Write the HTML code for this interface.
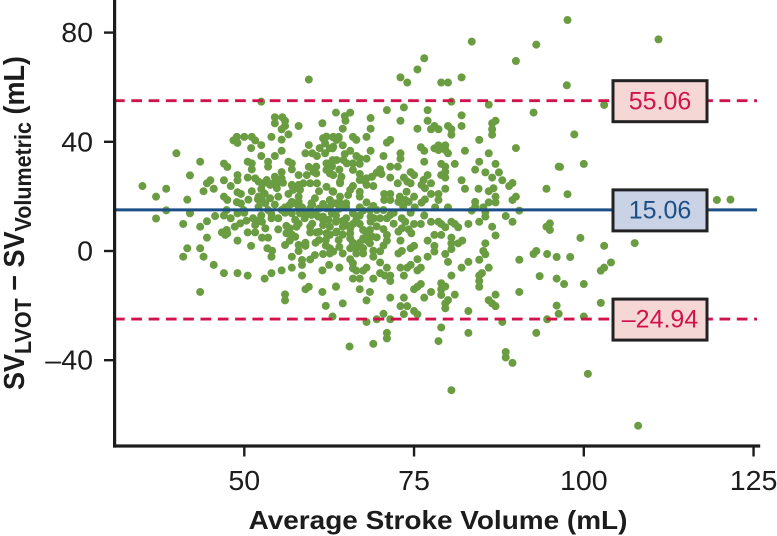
<!DOCTYPE html>
<html lang="en">
<head>
<meta charset="utf-8">
<title>Stroke Volume Bland-Altman Plot</title>
<style>
html,body{margin:0;padding:0;background:#fff;}
svg{display:block;font-family:"Liberation Sans",Arial,sans-serif;}
</style>
</head>
<body>
<svg id="chart" width="777" height="536" viewBox="0 0 777 536" xmlns="http://www.w3.org/2000/svg">
  <g id="points"></g>
  <g id="refs"></g>
  <g id="axes">
    <rect x="113" y="0" width="3.2" height="447.6" fill="#1c1c1c"></rect>
    <rect x="113" y="444.4" width="647.2" height="3.2" fill="#1c1c1c"></rect>
  </g>
  <text transform="translate(438,529) scale(1.075,1)" x="0" y="0" text-anchor="middle" font-size="26" font-weight="700" fill="#1c1c1c">Average Stroke Volume (mL)</text>
  <text transform="translate(24,390) rotate(-90) scale(1,1.06)" font-size="27" font-weight="700" fill="#1c1c1c">SV<tspan font-size="21.5" dy="6.6">LVOT</tspan><tspan dy="-6.6"> − SV</tspan><tspan font-size="21.5" dy="6.6">Volumetric</tspan><tspan dy="-6.6"> (mL)</tspan></text>
</svg>
<script>
const xTicks = [50, 75, 100, 125];
const yTicks = [80, 40, 0, -40];
const limitValues = [55.06, 15.06, -24.94];
const limitLabels = ["55.06", "15.06", "–24.94"];
const limitNames = ["upper-limit", "mean-bias", "lower-limit"];
const avgVolume = [
59.5,52.5,63.5,54.5,55.6,56,54.5,58,61.5,56,55.5,56.5,54,55.5,
48.9,50,51.1,48.4,49,51.6,52.5,51,59.5,55.5,40,52.5,54.5,59,60,60.7,
61.1,61.9,61.6,62.1,63.1,63.9,62.6,61.9,63.1,43.5,47,47.5,50.5,51.1,51.1,
53.5,53.5,56.5,57,57,59.5,60.6,60.6,62.1,62.1,62.9,63.6,42,35,37,38.5,41.6,
38.5,42,37,41,43.5,44.5,45.7,44.5,45,44,45.5,47,48,49,49,47,47.5,
49.5,48.9,49.5,50.6,51.1,50.5,51.6,52.1,55.5,54.5,55.5,53.3,52.8,54.3,55,55.7,53.8,54.8,52.5,
58,59.2,60.2,57,58,57.2,58.2,58.7,59.7,60.7,56.5,52.1,52.6,53.1,53.8,55,
58,58,57,56.7,61,62.1,63,64.1,60.4,59.9,62.6,63.6,61.6,52.1,53.5,55.5,47.4,49,49.9,
57,58.2,59.2,60.4,61.6,62.9,62.1,59.7,62.6,
44.5,46.9,47.4,47.2,46.7,47.5,49,51,48.6,49.4,50.3,50.5,51.6,51.6,51.3,52.6,53.1,
52.6,53.5,54,55,55,56.2,56.7,57.7,57.5,56.2,56,56.7,57.5,53.4,54.1,54,57,
58,58,59,41.6,41,43.5,44,45.5,47,49,50.5,53,54,55.5,57,58.5,58.5,
59.7,60.4,61.6,62.6,62.6,63.1,61,62,62.6,62.1,63.6,59.7,59.7,60.6,61.6,62.6,61.6,62.4,
58.9,59.9,60.9,63.6,61.5,62.5,64,58.5,59.5,59,61.5,63.5,43.5,56,56,62,63,63.9,
83.5,93,90,76.5,75.5,73,74,79,80,82,80.5,86,71,73.5,77,92.6,65.6,64.8,64.9,68.6,82,73,77,
87,86.5,86.5,86.5,82,75.5,77.5,78,78.6,80,80.5,80.5,64.5,68.6,68,66,66.5,63.1,63.9,63.6,
71,71.5,84.6,64.5,63,65.6,64.8,64.6,65.1,68.6,76,76.5,90,78,78.6,79.6,78.6,79.6,80,
82.5,86,73,73,70.5,66.5,67,68,67,66,66,63,62.9,76.5,84.6,81,79,79.6,79.6,87,
71.5,72.6,96.3,84,64,70,70.2,69.5,68.8,68,67,67.5,67,68,74.5,75,85.5,87.5,
77,76.4,76.1,76.6,71.5,73.5,74,74.5,79,79.6,86.5,82,88,72.6,77.5,89.5,89,
82.5,84.5,79.6,94.5,86.7,86,64.3,64.1,63.1,62.6,66,65.6,65.3,64.1,63.1,67,67,69,
70.6,70.6,71.5,71.5,72.9,73.9,73.7,74.2,72.7,75,76.6,76.1,77.5,78.6,78.6,84,84,90,89.5,
86,87,87,68,64.1,65,63.1,67,67.5,68.5,69.5,70.5,73.4,75.1,78.1,80,83.5,85.2,85.5,90.5,
85.5,88.5,89.5,94.5,95,95,
65,66,63.5,68.6,69.1,68.6,71.5,71,73.2,73.7,75,76,77.5,78.6,79,79.6,80.5,81,81.5,83,84.6,86.5,87,
64.5,63.5,65.6,65.6,65.6,66,67,67.5,68.5,68,67.5,68.8,68.5,68,69.5,71,71,73,72.7,73.2,74.2,74.6,
77,78,79,80.5,80.5,80.5,81.5,82.1,85.5,78,78,74.5,75,72.7,73.2,79.6,85.2,85.5,92.6,93,94.6,96,90.5,
77,75.5,80,83,84.6,82,86,85,84.6,84.6,84.6,80.5,93.5,96,76,75.5,74.5,74,73,73.5,
64.5,62.9,65.6,66.5,67.5,66.5,67.5,69,70,69,64,65.6,66,66,66.5,67.5,68,70,
71,70,70.7,71.5,71.5,69,66,67,63.5,67,68.5,68,64.5,71.5,73.5,73,74,
75,75.5,76,76.5,77.5,79,79.6,79,79,81,80,79.6,79.6,75,75.5,73.5,70.5,69.5,71.5,68,
83,86,86.5,87,87,90.5,96,94.6,96.3,88,79,83,93,71,71,78.6,69,65.5,88.5,88.5,89.5,80.5,
97.6,111,97.5,103,98.6,96.5,100,97.6,119.6,121.6,
99.5,103,107.5,98,104,103,102.5,97.1,100,102.5,100,100.6,108,
50,52,53,49,54,56,47,52.5,48,58,56,54.5,52,
57.5,58.5,60,61,63,64,65,63.5,64.5,60,61,58,57,59,60.5,62,64,64.5,66,66.5,67,65,67,69.5,70,70.5,69,72,74.5,76.5,72,70.5
];
const difference = [
62.8,54.7,50.7,49,49,47.7,46.8,45.8,46.8,45.8,44.6,42.7,41.8,40.8,
41.8,41.8,41.8,40.5,39.6,40.5,38.8,37.7,38.8,36.7,35.8,34.8,34.8,35.8,35.8,34.8,
37.7,39.4,41.3,41.9,41.6,41.3,37.6,35.8,38.2,32.7,32,30.8,32.7,32.1,29.9,
32.7,30.9,32.7,32.1,29.9,30.8,30.9,28.4,32.1,29.7,30.9,33.3,27.7,23.8,19.9,22.8,18.8,
14.9,13.8,11.9,9.9,8.9,10.9,12.8,24.8,25.9,21.9,22.8,25.9,23.8,27.8,25.9,19.9,18.7,
20.9,17.9,17.4,18.8,21.9,26.9,26.6,25.4,28.9,27.2,26.6,26,24.8,24.8,25.4,25,24.2,23,22.7,
27.8,27.8,29,24.2,24.2,22.4,22.4,24.8,24.8,24.8,20.9,19.9,18.7,17.5,19.3,19.9,
19.9,18,18,16.9,21.9,23.5,21.9,24.8,19.3,17.5,18.7,17.5,17.2,16.2,15,15,15,13.8,15,
13.8,13.8,13.8,13.8,12.6,13.8,15.6,15.6,16.2,
4.9,6.8,7.7,5.9,6.8,6.5,3.8,1.9,8.9,10.1,11.1,6.8,6.8,9.5,12,10.7,8.3,
4.9,4.9,12,12,7.9,6.5,8.3,8.9,11.4,9.2,2.2,3.8,5.2,1,0.1,-2.1,-2.1,
2.2,0,1.9,1,-2.1,1,-2.1,-5.1,-8.1,-8.1,-9,-10.1,-8.1,-7.1,-6.1,-3.3,-5.1,
-3.1,-1.5,-1.1,-0.9,1,-0.2,4,4,5.9,6.5,7.1,6.8,8.9,6.8,9.5,8.9,11.4,11.4,
12,13.2,12.6,11.1,-7.1,-5.1,-6.1,-9,-13.1,-14,-15,-13.1,-15,-15.9,-18.1,-20.1,-24,4,
76.7,75.6,69.6,70.6,66.5,63.6,61.7,61.7,61.7,63.6,54.7,53.6,51.6,52.6,51.6,50.7,50.7,49.4,47.7,48.7,49.7,47.7,47.7,
47.7,46.8,44.6,42.6,45.8,44.8,44.6,45.8,44.6,45.8,44.6,42.6,44.8,44.8,41.8,41.8,40.7,41.8,41.8,40.7,
39.7,40.7,40.7,38.7,37.6,36.7,35.5,33.3,32.1,36.7,38,36.7,37.7,37.6,38.7,38.7,37,37,35.8,
36.7,35.8,35.8,33.8,34.8,34.8,33.9,33.8,31.9,32.1,29.7,33.3,31.3,32.7,32.7,31.9,31.9,30.9,29,31.9,
30.9,30.9,30.9,29.8,29.8,29.9,28.2,28.7,27.2,26.6,28.2,26,26,24.2,28.9,27.8,28.8,28.8,
27.8,26,24.2,23,26.9,26.9,25.4,24.8,27.8,26.9,26.9,25.9,25.9,24.8,24.8,24.9,23.8,
22.8,22.8,22.8,22.8,23,21.9,27.2,25.4,27.8,28.4,23.8,22.4,20.5,19.9,21.7,21.7,19.9,23.8,
20.9,18.7,20.9,18.7,19.9,21.7,18.7,18,18,19.9,18.9,17.7,20.9,20.9,18.7,18,16.2,19.9,18.7,
17.8,19.9,17.8,17.8,17.5,17.5,17.5,16,14.8,15,15,15,16.2,16,16,16,14.8,16,14.4,14.8,
12.6,12.8,10.7,8.9,10.1,7.7,
12,13.8,10.7,12.6,12,10.7,13.2,12,12,10.7,9.9,9.9,10.7,10.7,9.9,8.7,10.7,9.9,8.7,9.9,10.7,8.9,5.7,
8.9,6.8,8.3,6.5,4.6,9.9,9.9,7.7,7.7,6.5,4.6,5.3,2.8,4,5,5.9,3.8,3.8,7.1,8.3,7.9,6.5,
3.8,5.9,5.9,4.9,2.8,0.7,2.8,3.8,2.8,1.9,-0.2,1,1.9,-0.9,0,-1.1,0,-1.2,-1.1,0,-1.1,-2.2,-3.2,
-2.1,-3,-4,-4,-3.2,-6.1,-6.1,-8.1,-9,-11,-13.1,-9,-9.2,-10.1,-6.1,-7.1,-5.1,-6.1,-6.1,-9,
-0.9,-0.2,1,1,1,-0.9,-0.9,0.1,-0.1,-2.1,-6.1,-3,-4.5,-6.4,-7.2,-7.2,-6.1,-4.2,
-6.1,-8.1,-9,-9,-11,-10.1,-10.1,-10.1,-13,-14,-15,-18.1,-19.2,-17.1,-17.1,-20.2,-20.2,
-14,-13.1,-12.1,-17.1,-15,-11.8,-13,-14,-16.1,-16,-18,-19.2,-21,-22,-23.2,-23.1,-23,-25,-25,-26,
-22,-18,-19.2,-20.2,-16,-15,-20,-25,-23,-26,-28,-30,-30,-30,-32,-33,-34,-35,-37,-39,-41,-51,
84.6,77.5,60.7,53.5,42.7,30.8,31.9,20.8,18.7,18.8,
4.8,1.9,2.9,-2.2,-4.2,-6.1,-7.2,-12.1,-12.1,-19,-24,-45,-64,
14,19,21,21.5,13.5,14,13,13,12,15.5,16,17,11,
17.5,16,17,15.5,14,15.5,16,13,11,10,7,10,6,3,3,2,1.5,6,3,11.5,13,9.5,3,9,12,8,16.5,14,14,13,10,2
];

const SVG_NS = "http://www.w3.org/2000/svg";
function xScale(v) { return 244.3 + (v - 50) * 6.79; }
function yScale(v) { return 251 - v * 2.73; }
function make(tag, attrs, parent) {
  const el = document.createElementNS(SVG_NS, tag);
  for (const k in attrs) el.setAttribute(k, attrs[k]);
  parent.appendChild(el);
  return el;
}

const pointsGroup = document.getElementById("points");
const refsGroup = document.getElementById("refs");
const axesGroup = document.getElementById("axes");
const chartSvg = document.getElementById("chart");

const pointCount = Math.min(avgVolume.length, difference.length);
for (let i = 0; i < pointCount; i++) {
  const dot = make("circle", { cx: xScale(avgVolume[i]), cy: yScale(difference[i]), r: 4, fill: "#6a9c42" }, pointsGroup);
  
  
}

limitValues.forEach(function (value, i) {
  const isMean = i === 1;
  const color = isMean ? "#1b4f86" : "#d0134c";
  const cy = yScale(value);
  const line = make("line", { x1: 114, x2: 757, y1: cy, y2: cy, stroke: color, "stroke-width": isMean ? 3 : 2.8 }, refsGroup);
  if (!isMean) line.setAttribute("stroke-dasharray", "10.7 6.6");
  
  
  const box = make("rect", { x: 613, y: cy - 20, width: 94, height: 41, fill: isMean ? "#c9d3e5" : "#f5d8d5", stroke: "#222222", "stroke-width": 3 }, refsGroup);
  
  
  const label = make("text", { x: 660, y: cy + 8.6, "text-anchor": "middle", "font-size": 25, fill: color }, refsGroup);
  label.textContent = limitLabels[i];
  
  
});

yTicks.forEach(function (value) {
  const cy = yScale(value);
  const tick = make("line", { x1: 104, x2: 114, y1: cy, y2: cy, stroke: "#1c1c1c", "stroke-width": 2.4 }, axesGroup);
  
  
  const label = make("text", { transform: "translate(93," + (cy + 9.5) + ") scale(1.04,1)", "text-anchor": "end", "font-size": 27.5, fill: "#1c1c1c" }, chartSvg);
  label.textContent = value < 0 ? "–" + Math.abs(value) : String(value);
  
  
});

xTicks.forEach(function (value) {
  const cx = xScale(value);
  const tick = make("line", { x1: cx, x2: cx, y1: 446, y2: 456.5, stroke: "#1c1c1c", "stroke-width": 2.4 }, axesGroup);
  
  
  const label = make("text", { transform: "translate(" + cx + ",490) scale(1.04,1)", "text-anchor": "middle", "font-size": 27.5, fill: "#1c1c1c" }, chartSvg);
  label.textContent = String(value);
  
  
});
</script>
</body>
</html>
